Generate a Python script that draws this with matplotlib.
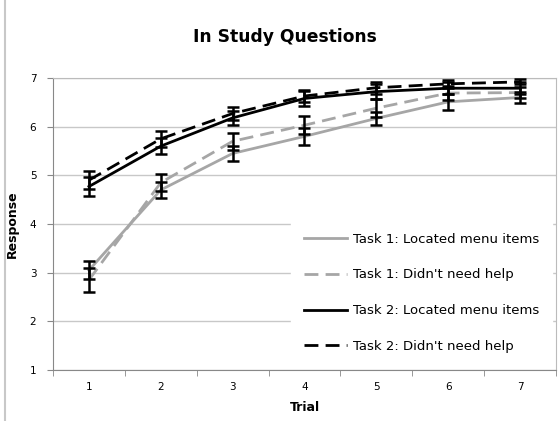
import matplotlib
matplotlib.use('Agg')
import matplotlib.pyplot as plt
from matplotlib.lines import Line2D

# values
trials = [1, 2, 3, 4, 5, 6, 7]

t1_located = [3.05, 4.70, 5.45, 5.80, 6.17, 6.51, 6.60]
t1_located_err = [0.18, 0.16, 0.15, 0.18, 0.14, 0.17, 0.12]

t1_nohelp = [2.85, 4.85, 5.70, 6.03, 6.38, 6.69, 6.70]
t1_nohelp_err = [0.24, 0.18, 0.18, 0.18, 0.18, 0.14, 0.12]

t2_located = [4.77, 5.60, 6.18, 6.58, 6.72, 6.79, 6.79]
t2_located_err = [0.19, 0.17, 0.15, 0.15, 0.15, 0.12, 0.12]

t2_nohelp = [4.90, 5.75, 6.27, 6.63, 6.80, 6.88, 6.92]
t2_nohelp_err = [0.18, 0.17, 0.14, 0.12, 0.12, 0.08, 0.05]

labels = ["Task 1: Located menu items", "Task 1: Didn't need help",
          "Task 2: Located menu items", "Task 2: Didn't need help"]

plt.rcParams['font.family'] = ['DejaVu Sans']

fig = plt.figure(figsize=(5.58, 4.21), dpi=100)
ax = fig.add_axes([53 / 558, 1 - 370 / 421, 503 / 558, 292 / 421])

gray = '#a6a6a6'
dash = (5, 2.6)
series = [
    (t1_located, t1_located_err, gray, '-'),
    (t1_nohelp, t1_nohelp_err, gray, 'dash'),
    (t2_located, t2_located_err, 'black', '-'),
    (t2_nohelp, t2_nohelp_err, 'black', 'dash'),
]

handles = []
for (vals, err, col, ls), lab in zip(series, labels):
    line, = ax.plot(trials, vals, color=col, lw=2.0, zorder=3, label=lab)
    if ls == 'dash':
        line.set_dashes(dash)
    ax.errorbar(trials, vals, yerr=err, fmt='none', ecolor='black',
                elinewidth=1.8, capsize=4, capthick=1.8, zorder=4)
    handles.append(line)

ax.set_xlim(0.5, 7.5)
ax.set_ylim(1, 7)
ax.set_yticks(range(1, 8))
ax.set_xticks(trials)
ax.set_xticks([i + 0.5 for i in range(0, 8)], minor=True)
ax.tick_params(axis='x', which='major', length=0, pad=9, labelsize=7.5)
ax.tick_params(axis='x', which='minor', length=4, color='#888888', direction='out')
ax.tick_params(axis='y', length=4, color='#888888', pad=8, labelsize=7.5)

ax.grid(axis='y', color='#c8c8c8', lw=1)
ax.set_axisbelow(True)
for side in ['left', 'bottom']:
    ax.spines[side].set_color('#888888')
for side in ['top', 'right']:
    ax.spines[side].set_color('#bbbbbb')

ax.set_xlabel('Trial', fontsize=9, fontweight='bold', labelpad=6)
ax.set_ylabel('Response', fontsize=9, fontweight='bold', labelpad=8)
fig.text(0.511, 1 - 37 / 421, 'In Study Questions', ha='center', va='center',
         fontsize=12.3, fontweight='bold')

leg = ax.legend(handles=handles, loc='lower right',
                bbox_to_anchor=(1.0, 0.0), fontsize=9.5, frameon=True,
                facecolor='white', edgecolor='white', framealpha=1,
                handlelength=3.2, handletextpad=0.45, labelspacing=1.72,
                borderpad=1.0, borderaxespad=0.3, fancybox=False)
leg.set_zorder(6)

# left border of the chart frame
fig.add_artist(Line2D([5 / 558, 5 / 558], [0, 1], color='#c8c8c8', lw=1.5))

fig.savefig('out.png', dpi=100)
